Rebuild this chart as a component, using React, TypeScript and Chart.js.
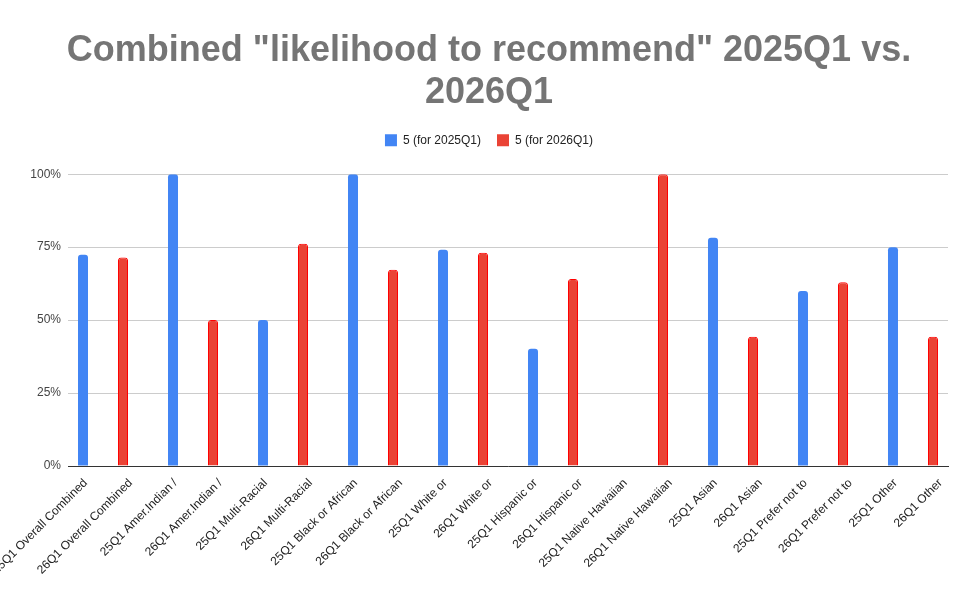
import { useEffect, useRef } from "react";
import { Chart, registerables } from "chart.js";

Chart.register(...registerables);

const categories = [
  "25Q1 Overall Combined",
  "26Q1 Overall Combined",
  "25Q1 Amer.Indian /",
  "26Q1 Amer.Indian /",
  "25Q1 Multi-Racial",
  "26Q1 Multi-Racial",
  "25Q1 Black or African",
  "26Q1 Black or African",
  "25Q1 White or",
  "26Q1 White or",
  "25Q1 Hispanic or",
  "26Q1 Hispanic or",
  "25Q1 Native Hawaiian",
  "26Q1 Native Hawaiian",
  "25Q1 Asian",
  "26Q1 Asian",
  "25Q1 Prefer not to",
  "26Q1 Prefer not to",
  "25Q1 Other",
  "26Q1 Other",
];

// share answering "5", per category
const score2025 = [
  0.724, null, 1.0, null, 0.5, null, 1.0, null, 0.741, null,
  0.402, null, null, null, 0.782, null, 0.6, null, 0.75, null,
];
const score2026 = [
  null, 0.715, null, 0.5, null, 0.762, null, 0.673, null, 0.731,
  null, 0.641, null, 1.0, null, 0.443, null, 0.63, null, 0.443,
];

const yTicks = [0, 0.25, 0.5, 0.75, 1];

const titleLines = ['Combined "likelihood to recommend" 2025Q1 vs.', "2026Q1"];

Chart.defaults.font.family = '"Liberation Sans", Arial, sans-serif';

// extra room between the legend and the plot
const legendGap = {
  id: "legendGap",
  afterInit(chart: any) {
    const legend = chart.legend;
    if (!legend) return;
    const fit = legend.fit;
    legend.fit = function () {
      fit.call(this);
      this.height += 18;
    };
  },
};

export default function App() {
  const chartRef = useRef<HTMLCanvasElement>(null);
  const chartInstance = useRef<Chart | null>(null);

  useEffect(() => {
    document.body.style.margin = "0";
    if (!chartRef.current) return;
    if (chartInstance.current) chartInstance.current.destroy();

    const ctx = chartRef.current.getContext("2d");
    if (!ctx) return;

    chartInstance.current = new Chart(ctx, {
      type: "bar",
      data: {
        datasets: [
          {
            label: "5 (for 2026Q1)",
            data: categories.map((_, i) => ({ x: i, y: score2026[i] })),
            backgroundColor: "#ea4335",
            borderColor: "#ff0000",
            borderWidth: 1,
            borderRadius: 3,
          },
          {
            label: "5 (for 2025Q1)",
            data: categories.map((_, i) => ({ x: i, y: score2025[i] })),
            backgroundColor: "#4285f4",
            borderWidth: 0,
            borderRadius: 3,
          },
        ],
      },
      options: {
        responsive: false,
        animation: false,
        categoryPercentage: 0.2222,
        barPercentage: 2,
        layout: { padding: 0 },
        plugins: {
          title: {
            display: true,
            text: titleLines,
            color: "#757575",
            font: { size: 36, weight: "bold", lineHeight: 1.17 },
            padding: { top: 30, bottom: 4 },
          },
          legend: {
            reverse: true,
            labels: {
              boxWidth: 12,
              boxHeight: 12,
              padding: 16,
              color: "#222",
              font: { size: 12 },
              generateLabels: (chart: any) =>
                Chart.defaults.plugins.legend.labels
                  .generateLabels(chart)
                  .map((item: any) => ({ ...item, lineWidth: 0 })),
            },
          },
          tooltip: { enabled: false },
        },
        scales: {
          x: {
            type: "linear",
            offset: false,
            min: -0.278,
            max: 19.278,
            grid: { display: false, drawTicks: false },
            border: { display: true, color: "#333", width: 1 },
            afterBuildTicks: (scale: any) => {
              scale.ticks = categories.map((_, i) => ({ value: i }));
            },
            ticks: {
              autoSkip: false,
              minRotation: 45,
              maxRotation: 45,
              padding: 10,
              labelOffset: 5,
              color: "#222",
              font: { size: 12 },
              callback: (value: any) => categories[value] ?? "",
            },
            afterFit: (scale: any) => {
              scale.height = 139;
              scale.paddingLeft = 0;
              scale.paddingRight = 30;
            },
          },
          y: {
            min: 0,
            max: 1,
            grid: { color: "#cccccc", drawTicks: false },
            border: { display: false },
            afterBuildTicks: (scale: any) => {
              scale.ticks = yTicks.map((v) => ({ value: v }));
            },
            ticks: {
              padding: 7,
              color: "#444",
              font: { size: 12 },
              callback: (value: any) => `${Math.round(value * 100)}%`,
            },
            afterFit: (scale: any) => {
              scale.width = 68;
            },
          },
        },
      },
      plugins: [legendGap],
    } as any);

    return () => {
      if (chartInstance.current) {
        chartInstance.current.destroy();
        chartInstance.current = null;
      }
    };
  }, []);

  return (
    <div style={{ width: 978, height: 605 }}>
      <canvas ref={chartRef} width={978} height={605} />
    </div>
  );
}
